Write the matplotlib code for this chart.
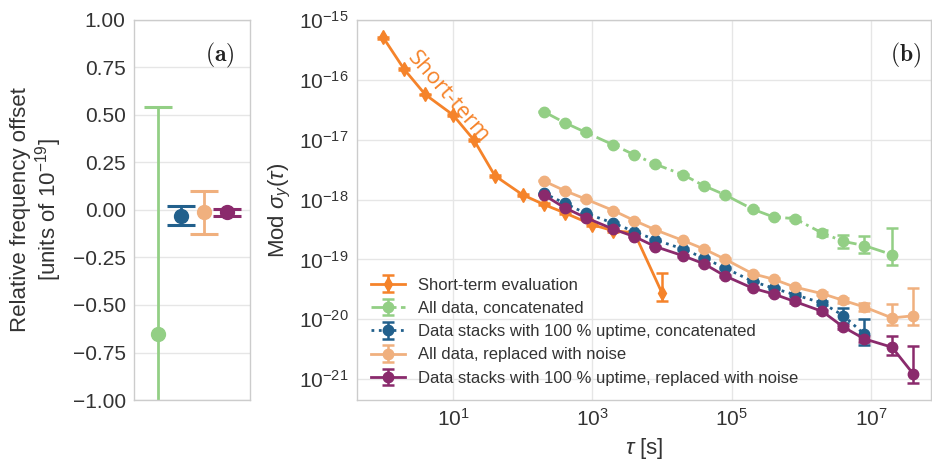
import numpy as np
import matplotlib
matplotlib.use("Agg")
import matplotlib.pyplot as plt
from matplotlib.ticker import LogFormatterSciNotation, NullLocator, FixedLocator

plt.rcParams.update({
    "font.family": ["Liberation Sans", "DejaVu Sans"],
    "mathtext.fontset": "custom",
    "mathtext.rm": "Liberation Sans",
    "mathtext.it": "Liberation Sans:italic",
    "mathtext.bf": "Liberation Sans:bold",
    "axes.edgecolor": "#cccccc",
    "axes.linewidth": 1.0,
    "grid.color": "#e6e6e6",
    "grid.linewidth": 1.0,
    "text.color": "#333333",
    "axes.labelcolor": "#333333",
    "xtick.color": "#333333",
    "ytick.color": "#333333",
})

# ---------------- data ----------------
C_ORANGE = "#f5832a"
C_GREEN = "#93cf85"
C_BLUE = "#22608c"
C_TAN = "#f0b07e"
C_PURPLE = "#8a2a6c"

# panel (a): frequency offsets [1e-19]
offset_names = ["All data, concatenated", "Data stacks 100 % concatenated",
                "All data, noise", "Data stacks 100 % noise"]
offset_vals = [-0.65, -0.03, -0.012, -0.012]
offset_errs = [1.19, 0.05, 0.113, 0.017]
offset_cols = [C_GREEN, C_BLUE, C_TAN, C_PURPLE]
offset_ticks = [-1.0, -0.75, -0.5, -0.25, 0.0, 0.25, 0.5, 0.75, 1.0]

# panel (b)
tau_short = [1, 2, 4, 10, 20, 40, 100, 200, 400, 1000, 2000, 4000, 10000]
sig_short = [5.1e-16, 1.5e-16, 5.7e-17, 2.6e-17, 9.9e-18, 2.5e-18, 1.2e-18,
             8.3e-19, 6.0e-19, 3.8e-19, 3.0e-19, 2.8e-19, 2.75e-20]
err_short_lo = [2e-17, 6e-18, 2e-18, 1e-18, 4e-19, 1e-19, 5e-20,
                3e-20, 2.5e-20, 1.5e-20, 1.5e-20, 1.5e-20, 0.77e-20]
err_short_hi = [2e-17, 6e-18, 2e-18, 1e-18, 4e-19, 1e-19, 5e-20,
                3e-20, 2.5e-20, 1.5e-20, 1.5e-20, 1.5e-20, 3.2e-20]

tau_long = [2e2, 4e2, 8e2, 2e3, 4e3, 8e3, 2e4, 4e4, 8e4, 2e5, 4e5, 8e5,
            2e6, 4e6, 8e6, 2e7, 4e7]

sig_all_cat = [2.95e-17, 1.93e-17, 1.33e-17, 8.2e-18, 5.6e-18, 3.9e-18,
               2.6e-18, 1.7e-18, 1.2e-18, 6.9e-19, 5.1e-19, 4.8e-19,
               2.75e-19, 2.0e-19, 1.7e-19, 1.2e-19]
err_all_cat_lo = [5e-19, 4e-19, 3e-19, 2e-19, 1.5e-19, 1e-19, 7e-20, 5e-20,
                  4e-20, 3e-20, 2.5e-20, 3e-20, 3e-20, 4.4e-20, 4.3e-20, 3.9e-20]
err_all_cat_hi = [5e-19, 4e-19, 3e-19, 2e-19, 1.5e-19, 1e-19, 7e-20, 5e-20,
                  4e-20, 3e-20, 2.5e-20, 3e-20, 3e-20, 6e-20, 8e-20, 2.1e-19]

sig_stack_cat = [1.28e-18, 8.7e-19, 5.9e-19, 4.04e-19, 2.92e-19, 2.12e-19,
                 1.49e-19, 1.05e-19, 7.2e-20, 4.28e-20, 3.3e-20, 2.57e-20,
                 1.86e-20, 1.15e-20, 5.6e-21]
err_stack_cat_lo = [3e-20, 2e-20, 1.5e-20, 1e-20, 8e-21, 6e-21, 4e-21, 3e-21,
                    2.5e-21, 1.5e-21, 1.5e-21, 1.5e-21, 1.5e-21, 2.8e-21, 1.9e-21]
err_stack_cat_hi = [3e-20, 2e-20, 1.5e-20, 1e-20, 8e-21, 6e-21, 4e-21, 3e-21,
                    2.5e-21, 1.5e-21, 1.5e-21, 1.5e-21, 1.5e-21, 4e-21, 4.6e-21]

sig_all_noise = [2.05e-18, 1.41e-18, 1.02e-18, 6.55e-19, 4.46e-19, 3.12e-19,
                 2.07e-19, 1.49e-19, 1.01e-19, 5.75e-20, 4.66e-20, 3.45e-20,
                 2.67e-20, 2.06e-20, 1.6e-20, 1.05e-20, 1.14e-20]
err_all_noise_lo = [4e-20, 3e-20, 2e-20, 1.5e-20, 1e-20, 7e-21, 5e-21, 4e-21,
                    3e-21, 2e-21, 2e-21, 1.5e-21, 1.5e-21, 2e-21, 2.5e-21, 2.4e-21, 3.3e-21]
err_all_noise_hi = [4e-20, 3e-20, 2e-20, 1.5e-20, 1e-20, 7e-21, 5e-21, 4e-21,
                    3e-21, 2e-21, 2e-21, 1.5e-21, 1.5e-21, 2e-21, 2.5e-21, 7.5e-21, 2.16e-20]

sig_stack_noise = [1.2e-18, 7.3e-19, 5.0e-19, 3.2e-19, 2.41e-19, 1.64e-19,
                   1.15e-19, 8.45e-20, 5.3e-20, 3.3e-20, 2.64e-20, 1.98e-20,
                   1.35e-20, 7.4e-21, 4.7e-21, 3.4e-21, 1.23e-21]
err_stack_noise_lo = [3e-20, 2e-20, 1.5e-20, 1e-20, 7e-21, 5e-21, 4e-21, 3e-21,
                      2e-21, 1.2e-21, 1e-21, 8e-22, 6e-22, 5e-22, 6e-22, 0.85e-21, 0.37e-21]
err_stack_noise_hi = [3e-20, 2e-20, 1.5e-20, 1e-20, 7e-21, 5e-21, 4e-21, 3e-21,
                      2e-21, 1.2e-21, 1e-21, 8e-22, 6e-22, 5e-22, 6e-22, 1.8e-21, 2.3e-21]

x_ticks_b = [1e1, 1e3, 1e5, 1e7]
y_ticks_b = [1e-21, 1e-20, 1e-19, 1e-18, 1e-17, 1e-16, 1e-15]

labels = ["Short-term evaluation",
          "All data, concatenated",
          "Data stacks with 100 % uptime, concatenated",
          "All data, replaced with noise",
          "Data stacks with 100 % uptime, replaced with noise"]

# ---------------- figure ----------------
W, H = 932, 463
fig = plt.figure(figsize=(W / 100, H / 100), dpi=100)
axa = fig.add_axes([134 / W, 1 - 400 / H, 116 / W, 380 / H])
axb = fig.add_axes([357 / W, 1 - 400 / H, 574 / W, 380 / H])

# panel (a)
for i, (v, e, c) in enumerate(zip(offset_vals, offset_errs, offset_cols)):
    axa.errorbar([i], [v], yerr=[e], fmt="o", color=c, ms=10, elinewidth=2,
                 capsize=10, capthick=2.2)
axa.set_xlim(-1.05, 4.0)
axa.set_ylim(-1.0, 1.0)
axa.yaxis.set_major_locator(FixedLocator(offset_ticks))
axa.set_yticklabels([f"{t:.2f}".replace("-", "\u2212") for t in offset_ticks])
axa.set_xticks([])
axa.grid(True, axis="y")
axa.set_axisbelow(True)
axa.tick_params(axis="y", labelsize=15, length=0, pad=6)
axa.set_ylabel("Relative frequency offset\n[units of $10^{-19}$]", fontsize=16,
               labelpad=6, linespacing=1.1)
axa.text(0.74, 0.906, r"$\mathbf{(a)}$", transform=axa.transAxes, fontsize=17,
         ha="center", va="center", math_fontfamily="cm", color="#222222")

# panel (b)
common = dict(ms=7.5, elinewidth=1.8, capsize=4, capthick=1.8, lw=2)
axb.errorbar(tau_short, sig_short, yerr=[err_short_lo, err_short_hi], fmt="-d",
             color=C_ORANGE, label=labels[0], **common)
axb.errorbar(tau_long[:len(sig_all_cat)], sig_all_cat,
             yerr=[err_all_cat_lo, err_all_cat_hi], fmt="-.o", color=C_GREEN,
             label=labels[1], **common)
axb.errorbar(tau_long[:len(sig_stack_cat)], sig_stack_cat,
             yerr=[err_stack_cat_lo, err_stack_cat_hi], fmt=":o", color=C_BLUE,
             label=labels[2], **common)
axb.errorbar(tau_long[:len(sig_all_noise)], sig_all_noise,
             yerr=[err_all_noise_lo, err_all_noise_hi], fmt="-o", color=C_TAN,
             label=labels[3], **common)
axb.errorbar(tau_long[:len(sig_stack_noise)], sig_stack_noise,
             yerr=[err_stack_noise_lo, err_stack_noise_hi], fmt="-o", color=C_PURPLE,
             label=labels[4], **common)

axb.set_xscale("log")
axb.set_yscale("log")
axb.set_xlim(10 ** -0.376, 10 ** 7.86)
axb.set_ylim(10 ** -21.35, 1e-15)
axb.xaxis.set_major_locator(FixedLocator(x_ticks_b))
axb.xaxis.set_major_formatter(LogFormatterSciNotation())
axb.xaxis.set_minor_locator(NullLocator())
axb.yaxis.set_major_locator(FixedLocator(y_ticks_b))
axb.yaxis.set_major_formatter(LogFormatterSciNotation())
axb.yaxis.set_minor_locator(NullLocator())
axb.grid(True, which="major")
axb.set_axisbelow(True)
axb.tick_params(axis="both", labelsize=15, length=0, pad=6)
axb.set_xlabel(r"$\tau$ [s]", fontsize=16, labelpad=4)
axb.set_ylabel(r"Mod $\sigma_y(\tau)$", fontsize=16, labelpad=4)

axb.text(0.955, 0.906, r"$\mathbf{(b)}$", transform=axb.transAxes, fontsize=17,
         ha="center", va="center", math_fontfamily="cm", color="#222222")
axb.text(8.6, 5.2e-17, "Short-term", color=C_ORANGE, fontsize=16,
         family=["Open Sans", "DejaVu Sans"], rotation=-49,
         rotation_mode="anchor", ha="center", va="center")

leg = axb.legend(loc="lower left", fontsize=12, frameon=False,
                 bbox_to_anchor=(0.0, 0.0), borderaxespad=0.45,
                 handlelength=2.0, handletextpad=0.8, labelspacing=0.5)
for t in leg.get_texts():
    t.set_color("#333333")

fig.savefig("out.png", dpi=100)
